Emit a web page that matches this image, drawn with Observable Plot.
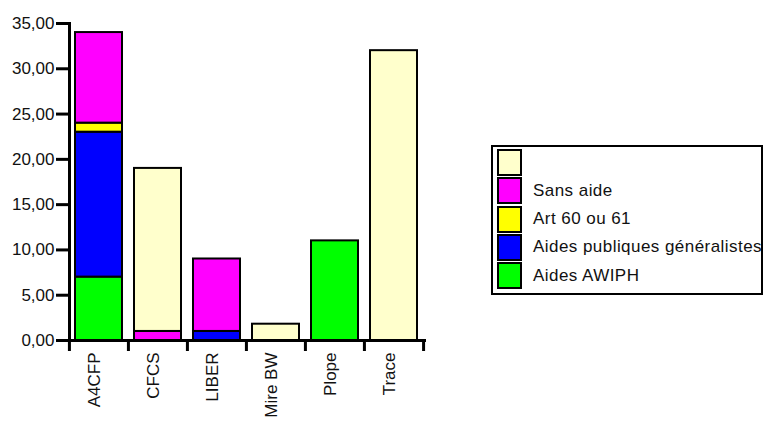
<!DOCTYPE html>
<html>
<head>
<meta charset="utf-8">
<script src="https://cdn.jsdelivr.net/npm/d3@7"></script>
<script src="https://cdn.jsdelivr.net/npm/@observablehq/plot@0.6"></script>
<style>
  body { margin: 0; background: #fff; font-family: "Liberation Sans", Arial, sans-serif; }
  #wrap { position: relative; width: 763px; height: 422px; overflow: hidden; }
  #legend { position: absolute; left: 491px; top: 145px; width: 272px; height: 150px; border: 2px solid #000; box-sizing: border-box; overflow: hidden; }
  .row { position: absolute; left: 4px; height: 25px; display: flex; align-items: center; white-space: nowrap; }
  .sw { width: 21px; height: 23px; border: 2px solid #000; box-sizing: content-box; margin-right: 11px; flex: none; }
  .lab { font-size: 17px; letter-spacing: 0.45px; color: #111; }
</style>
</head>
<body>
<div id="wrap"></div>
<script>
const categories = ["A4CFP", "CFCS", "LIBER", "Mire BW", "Plope", "Trace"];
// series, bottom to top
const seriesNames = ["Aides AWIPH", "Aides publiques généralistes", "Art 60 ou 61", "Sans aide", ""];
const seriesColors = ["#00FF00", "#0000FF", "#FFFF00", "#FF00FF", "#FFFFCC"];
const awiph      = [7, 0, 0, 0, 11, 0];
const publiques  = [16, 0, 1, 0, 0, 0];
const art60      = [1, 0, 0, 0, 0, 0];
const sansAide   = [10, 1, 8, 0, 0, 0];
const blank      = [0, 18, 0, 1.8, 0, 32];
const yTicks = [0, 5, 10, 15, 20, 25, 30, 35];

const seriesValues = [awiph, publiques, art60, sansAide, blank];
const rows = [];
seriesNames.forEach((s, si) => {
  categories.forEach((c, ci) => {
    const v = seriesValues[si][ci];
    if (v > 0) rows.push({cat: c, series: s, value: v});
  });
});

const W = 763, H = 422;
const mL = 69, mR = 339, mT = 23, mB = 82;
const pInner = 0.2, pOuter = 0.1;
const step = (W - mL - mR) / (categories.length - pInner + 2 * pOuter);
const fmt = d => d.toFixed(2).replace(".", ",");

const chart = Plot.plot({
  width: W, height: H,
  marginLeft: mL, marginRight: mR, marginTop: mT, marginBottom: mB,
  style: {fontFamily: "Liberation Sans, Arial, sans-serif", fontSize: "17px", color: "#111", background: "transparent"},
  x: {domain: categories, paddingInner: pInner, paddingOuter: pOuter, label: null},
  y: {domain: [0, 35], label: null},
  color: {domain: seriesNames, range: seriesColors},
  marks: [
    Plot.barY(rows, Plot.stackY({x: "cat", y: "value", fill: "series", order: seriesNames, stroke: "#000", strokeWidth: 2})),
    Plot.frame({anchor: "left", stroke: "#000", strokeWidth: 3}),
    Plot.frame({anchor: "bottom", stroke: "#000", strokeWidth: 3}),
    Plot.axisY({ticks: yTicks, tickFormat: fmt, tickSize: 13, tickPadding: 2, strokeWidth: 3, stroke: "#000", fontSize: 17, label: null}),
    Plot.axisX({ticks: categories, tickSize: 11, tickFormat: () => "", dx: -step / 2, strokeWidth: 3, stroke: "#000", label: null}),
    Plot.axisX({ticks: [categories[categories.length - 1]], tickSize: 11, tickFormat: () => "", dx: step / 2, strokeWidth: 3, stroke: "#000", label: null}),
    Plot.axisX({ticks: categories, tickSize: 0, tickRotate: -90, tickPadding: 12, dx: -4, fontSize: 17, label: null})
  ]
});

const wrap = document.getElementById("wrap");
wrap.appendChild(chart);

// legend (top to bottom = reverse stack order)
const legend = document.createElement("div");
legend.id = "legend";
const order = seriesNames.map((s, i) => i).reverse();
order.forEach((si, k) => {
  const r = document.createElement("div");
  r.className = "row";
  r.style.top = (3 + k * 28.3) + "px";
  const sw = document.createElement("div");
  sw.className = "sw";
  sw.style.background = seriesColors[si];
  const lab = document.createElement("span");
  lab.className = "lab";
  lab.textContent = seriesNames[si];
  r.appendChild(sw);
  r.appendChild(lab);
  legend.appendChild(r);
});
wrap.appendChild(legend);
</script>
</body>
</html>
